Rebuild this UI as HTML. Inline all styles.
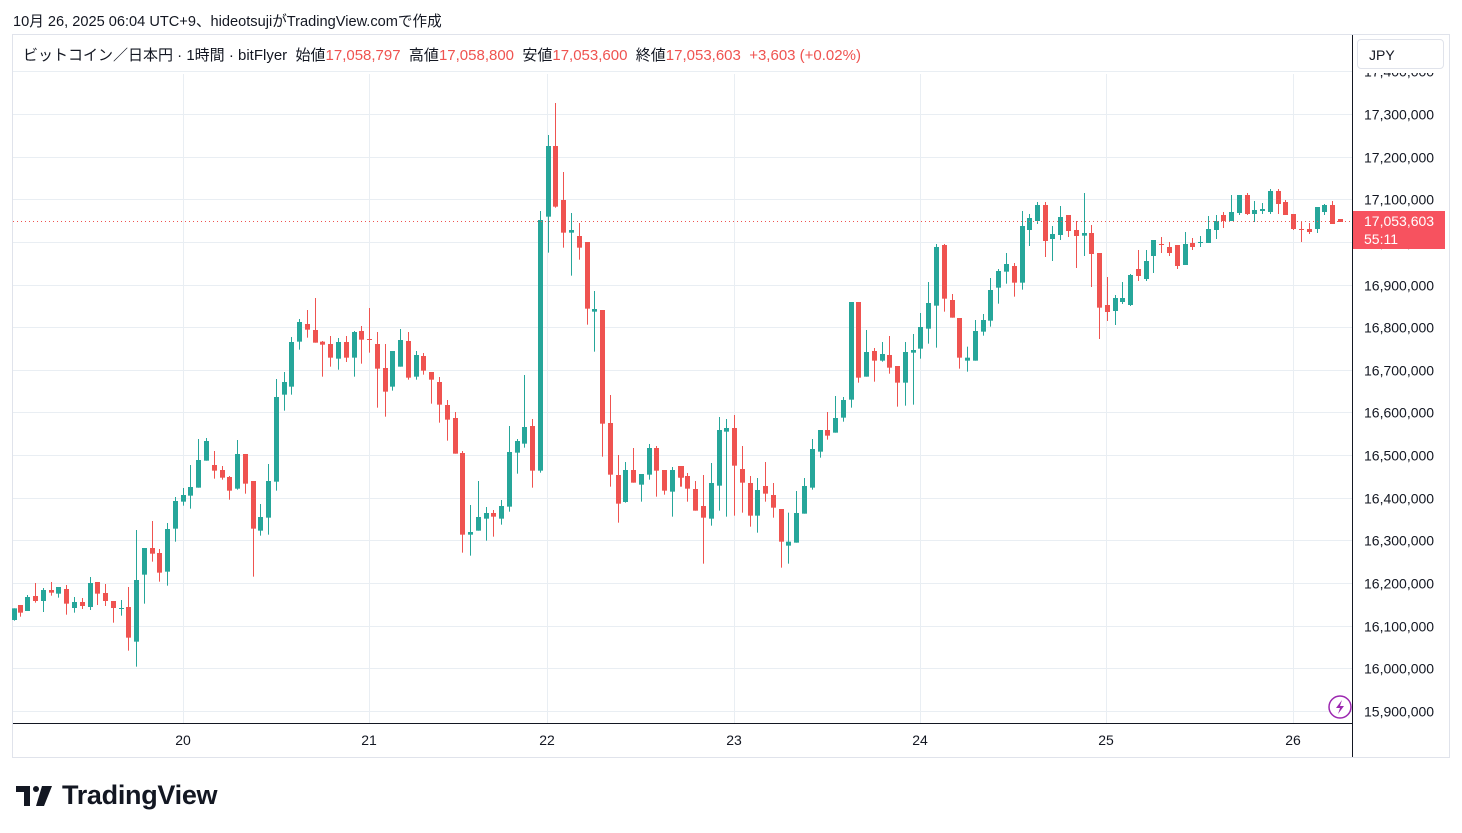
<!DOCTYPE html>
<html><head><meta charset="utf-8"><style>
body{margin:0;width:1462px;height:833px;background:#fff;overflow:hidden;font-family:"Liberation Sans","Noto Sans CJK JP",sans-serif;position:relative}
.t{position:absolute;white-space:nowrap}
</style></head><body>
<div class="t" style="left:13px;top:10px;font-size:14.6px;color:#131722">10月 26, 2025 06:04 UTC+9、hideotsujiがTradingView.comで作成</div>
<svg id="s" width="1462" height="833" style="position:absolute;left:0;top:0"></svg>
<div class="t" style="left:23px;top:44px;font-size:15px;color:#131722">ビットコイン／日本円 · 1時間 · bitFlyer&nbsp; 始値<span style="color:#ef5350">17,058,797</span>&nbsp; 高値<span style="color:#ef5350">17,058,800</span>&nbsp; 安値<span style="color:#ef5350">17,053,600</span>&nbsp; 終値<span style="color:#ef5350">17,053,603</span>&nbsp; <span style="color:#ef5350">+3,603 (+0.02%)</span></div>
<div class="t" style="left:1357px;top:39px;width:87px;height:30px;border:1px solid #e0e3eb;border-radius:4px;background:#fff;font-size:14px;color:#131722;line-height:30px;box-sizing:border-box;padding-left:11px">JPY</div>
<div class="t" style="left:62px;top:780px;font-size:27px;font-weight:bold;color:#131722;letter-spacing:-0.3px">TradingView</div>
<script>
const NS="http://www.w3.org/2000/svg",s=document.getElementById('s');
function el(n,a,t){const e=document.createElementNS(NS,n);for(const k in a)e.setAttribute(k,a[k]);if(t!==undefined)e.textContent=t;s.appendChild(e);return e;}
el('rect',{x:12.5,y:34.5,width:1437,height:723,fill:'none',stroke:'#e0e3eb'});
el('path',{d:'M16 786 H30 V806 H24 V792 H16 Z',fill:'#131722'});
el('circle',{cx:36,cy:789,r:3,fill:'#131722'});
el('path',{d:'M42 786 H52 L44 806 H36 Z',fill:'#131722'});
const py=p=>711-(p-15.9)/0.1*42.643;
for(let p=15.9;p<=17.41;p+=0.1){const y=Math.round(py(p))+0.5;el('line',{x1:13,x2:1352,y1:y,y2:y,stroke:'#e9eef3'});
 el('text',{x:1364,y:y+5,'font-size':14,fill:'#131722','font-family':'Liberation Sans'},(Math.round(p*1000)*1000).toLocaleString('en-US'));}
[[183,'20'],[369,'21'],[547,'22'],[734,'23'],[920,'24'],[1106,'25'],[1293,'26']].forEach(([x,l])=>{el('line',{x1:x+.5,x2:x+.5,y1:74,y2:723,stroke:'#e9eef3'});el('text',{x:x,y:745,'font-size':14,fill:'#131722','text-anchor':'middle','font-family':'Liberation Sans'},l);});
el('rect',{x:1352,y:35,width:97,height:38,fill:'#fff'});
el('line',{x1:13,x2:1352,y1:723.5,y2:723.5,stroke:'#131722'});
el('line',{x1:1352.5,x2:1352.5,y1:35,y2:757,stroke:'#131722'});
const D=[
[13,280,`3G985,1020,985,1022;22R975,998,975,1010;43G951,993,945,993;67R948,963,909,968;91G930,963,924,996;115R930,938,906,947;136G921,941,921,953;160R927,971,915,1004;184G966,984,951,998;208R966,978,954,987;232G909,981,891,990;253R906,941,906,975;277R939,963,912,978;301R963,984,963,1028;325G984,986,960,1007;346R981,1073,921,1112;370G900,1085,750,1160;394G804,884,804,971;418R804,821,723,845;439R819,878,807,905;463G747,875,729,917;487G663,746,651,785;511G645,665,624,677;532G621,647,555,686;556G540,623,477,623;580G483,542,474,542;604R555,572,513,596;628R570,593,558,599;649R591,632,588,659;673G522,626,480,629;697R522,611,522,641;721R603,746,603,890;742G711,752,672,767;766G603,713,552,764;790G351,605,297,632;814G306,344,276,392;835G186,320,171,344;859G126,185,117,209;883R132,149,90,173;907R150,188,54,188;928R185,194,183,290;952R192,233,168,260;976G186,236,174,269`],
[340,90,`18R756,803,738,816;43G726,803,723,860;64R723,749,708,821;88R747,749,654,788;112R762,836,726,953;136R834,905,762,980;157G783,890,783,902;181G750,830,717,830;205R753,863,726,869;229G795,860,783,869;250R798,842,789,854;274R846,869,846,941;298R876,944,861,998;322R945,989,930,1052;346R984,1091,966,1091;367R1089,1334,1083,1388;391G1326,1334,1245,1397;415G1281,1322,1173,1322;439G1269,1286,1251,1352;460R1269,1280,1260,1340;484G1248,1286,1230,1304;508G1086,1250,1008,1265;532G1053,1088,1047,1151;553G1011,1061,855,1073;577R1008,1142,987,1193;601G390,1142,363,1148;625G168,380,135,488;646R168,350,39,353;670R330,428,246,473;694G420,428,369,557;718R438,473,399,509;742R456,656,456,704;763G657,665,603,785;787R660,1001,660,1100;811R999,1154,915,1190;835R1155,1241,1095,1298;856G1140,1236,1116,1238;880R1140,1178,1074,1178;904G1152,1184,1152,1235;928G1074,1154,1062,1169;949R1074,1142,1068,1220;973R1140,1202,1140,1214;997G1140,1205,1131,1280;1021R1128,1163,1128,1190`],
[680,220,`3R738,773,738,800;22R768,806,759,845;46R807,872,783,872;70R858,893,765,1031;94G789,896,729,917;118G630,797,591,872;139G624,635,597,890;163R624,737,585,887;187R747,788,678,878;211R789,887,768,920;232G810,887,774,938;256R798,821,726,845;280R825,863,789,893;304R867,965,867,1043;325G965,977,878,1031;349G879,968,813,968;373G798,881,774,881;397G687,803,657,809;421G630,695,630,713;442R630,647,576,659;466G594,638,528,638;490G540,593,531,605;514G246,539,246,563;535R246,473,246,488;559G396,470,330,470;583R393,422,384,485;607G402,422,366,425;628R405,443,348,461;652R438,488,438,560;676G396,488,366,557;700G390,398,342,554;721G321,386,279,416;745G249,326,186,371;769G81,257,72,383;793R75,236,72,275;817R240,293,222,293;838R294,413,294,446;862G413,422,380,455;886G333,422,300,422;910G300,335,282,347;931G210,302,174,320;955G153,203,147,251;979G132,155,99,191;1003R138,188,129,230`],
[1020,180,`5G138,308,93,329;28G114,150,102,198;52G75,123,66,132;76R75,183,66,231;97G162,177,138,243;121G111,165,78,180;145R105,153,105,171;169R150,168,123,264;193G159,167,39,228;214R159,222,135,321;238R219,383,219,477;262R375,396,291,423;286G354,393,345,435;307G354,366,306,372;331G285,375,282,378;355R267,288,210,303;379G243,297,210,303;400G180,228,180,279;424R192,194,171,219;448R201,219,186,228;472R195,258,195,267;496G192,255,156,255;517R189,201,174,210;541G186,188,168,201;565G147,189,108,189;589G123,150,105,177;610R105,123,96,144;634G96,123,45,123;658G45,99,45,105;682R45,102,39,105;703G90,102,63,126;727G87,93,69,102;751G33,96,27,102;775R33,72,27,102;796R66,105,60,105;820R102,147,102,150;844R147,149,126,186;868R147,156,129,162;892G81,147,81,159;913G75,96,72,105;937R75,132,63,132;961R117,126,117,126`]];
D.forEach(([ox,oy,str])=>str.split(';').forEach(c=>{const m=c.match(/^(\d+)([RG])(.*)$/);const [bt,bb,wt,wb]=m[3].split(',').map(Number);
 const x=Math.round(ox+(+m[1])/3),col=m[2]=='G'?'#26a69a':'#ef5350';
 el('rect',{x:x,y:oy+wt/3,width:1,height:Math.max(1,(wb-wt)/3),fill:col});
 el('rect',{x:x-2,y:oy+bt/3,width:5,height:Math.max(1,(bb-bt)/3),fill:col});}));
el('line',{x1:13,x2:1352,y1:221.5,y2:221.5,stroke:'#ef5350','stroke-dasharray':'1,3'});
el('rect',{x:1353,y:211,width:92,height:38,fill:'#f7525f'});
el('text',{x:1364,y:226,'font-size':14,fill:'#fff','font-family':'Liberation Sans'},'17,053,603');
el('text',{x:1364,y:244,'font-size':14,fill:'#fff','font-family':'Liberation Sans'},'55:11');
el('circle',{cx:1340,cy:707,r:11,fill:'#fff',stroke:'#9c27b0','stroke-width':1.5});
el('path',{d:'M1342 700 L1336 708 L1340 708 L1338 714 L1344 706 L1340 706 Z',fill:'#9c27b0'});
</script>
</body></html>
